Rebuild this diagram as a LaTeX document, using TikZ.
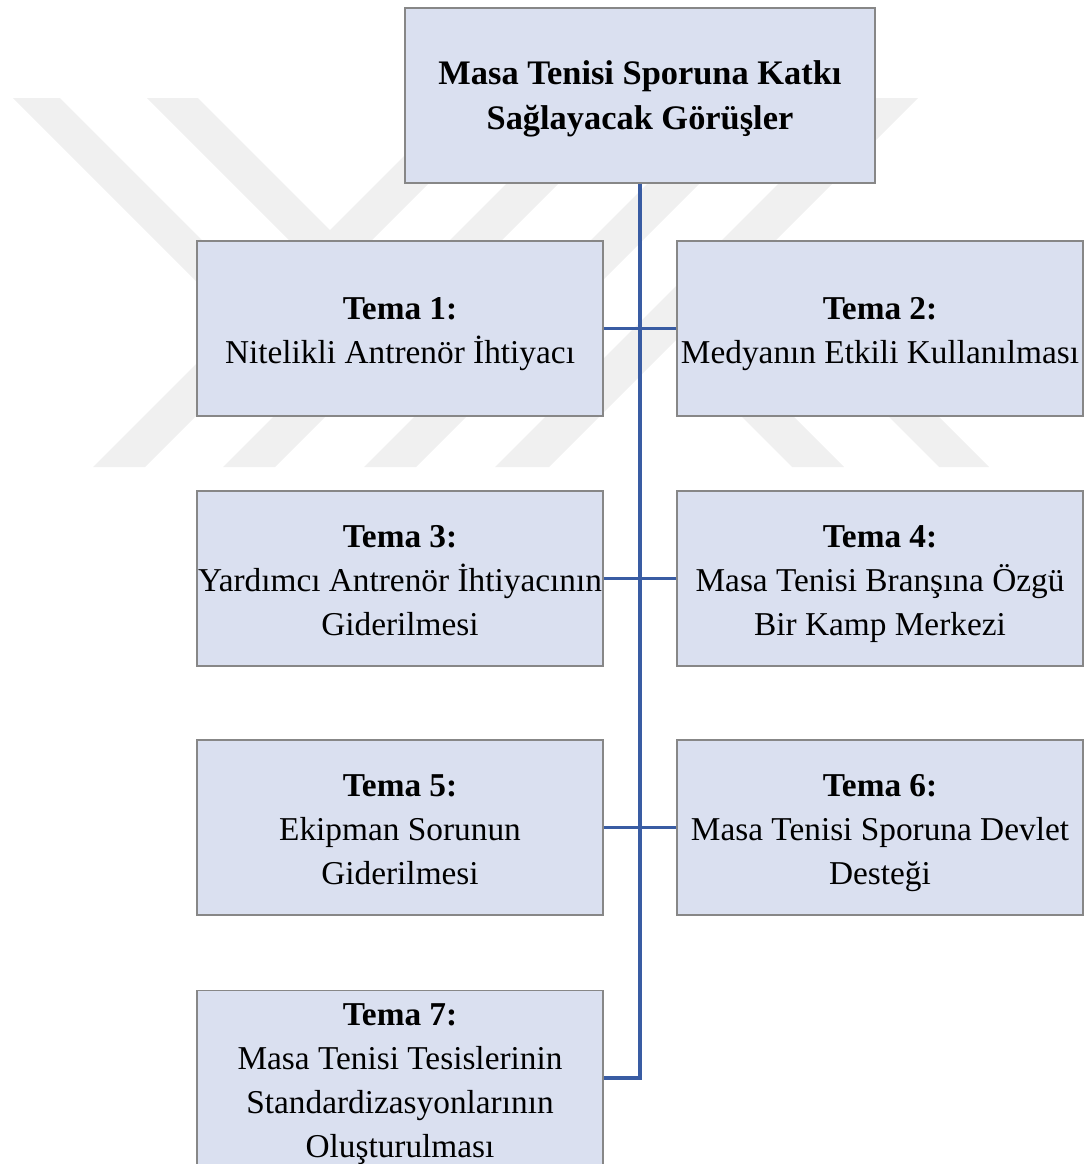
\documentclass[tikz,border=0pt]{standalone}
\usepackage{fontspec}
\setmainfont{Liberation Serif}
\definecolor{boxfill}{RGB}{218,224,240}
\definecolor{boxline}{RGB}{135,135,135}
\definecolor{connblue}{RGB}{57,92,163}
\definecolor{wmgray}{RGB}{240,240,240}
\newcommand\myTopStrut{\rule{0pt}{25.5pt}}
\newcommand\myBotStrut{\rule[-6pt]{0pt}{6pt}}
\newcommand\myTitleTop{\rule{0pt}{23pt}}
\begin{document}
\begin{tikzpicture}[x=0.75pt,y=-0.75pt,
  box/.style={draw=boxline, line width=1.1pt, fill=boxfill,
    minimum width=304.5pt, minimum height=131.25pt, inner sep=0pt,
    align=center, font=\fontsize{25}{33}\selectfont},
  connector/.style={draw=connblue, line width=2.3pt},
  wmark/.style={fill=wmgray}]
\useasboundingbox (0,0) rectangle (1088,1164);
% watermark bands
\fill[wmark] (13,98) -- (60,98) -- (262,300) -- (215,300) -- cycle;
\fill[wmark] (147,98) -- (198,98) -- (400,300) -- (349,300) -- cycle;
\fill[wmark] (462,98) -- (514,98) -- (145,467) -- (93,467) -- cycle;
\fill[wmark] (540,150) -- (592,150) -- (275,467) -- (223,467) -- cycle;
\fill[wmark] (681,150) -- (733,150) -- (416,467) -- (364,467) -- cycle;
\fill[wmark] (864,98) -- (918,98) -- (549,467) -- (495,467) -- cycle;
\fill[wmark] (705,380) -- (757,380) -- (844,467) -- (792,467) -- cycle;
\fill[wmark] (772,300) -- (822,300) -- (989,467) -- (939,467) -- cycle;
% boxes
\node[box, minimum width=352.5pt, font=\fontsize{25.8}{33.75}\selectfont\bfseries] (top) at (640,95.5)
  {\myTitleTop Masa Tenisi Sporuna Katkı\\Sağlayacak Görüşler\myBotStrut};
\node[box] (t1) at (400,328.5) {\myTopStrut\textbf{Tema 1:}\\Nitelikli Antrenör İhtiyacı\myBotStrut};
\node[box] (t2) at (880,328.5) {\myTopStrut\textbf{Tema 2:}\\Medyanın Etkili Kullanılması\myBotStrut};
\node[box] (t3) at (400,578.5) {\myTopStrut\textbf{Tema 3:}\\Yardımcı Antrenör İhtiyacının\\Giderilmesi\myBotStrut};
\node[box] (t4) at (880,578.5) {\myTopStrut\textbf{Tema 4:}\\Masa Tenisi Branşına Özgü\\Bir Kamp Merkezi\myBotStrut};
\node[box] (t5) at (400,827.5) {\myTopStrut\textbf{Tema 5:}\\Ekipman Sorunun\\Giderilmesi\myBotStrut};
\node[box] (t6) at (880,827.5) {\myTopStrut\textbf{Tema 6:}\\Masa Tenisi Sporuna Devlet\\Desteği\myBotStrut};
\node[box] (t7) at (400,1078) {\myTopStrut\textbf{Tema 7:}\\Masa Tenisi Tesislerinin\\Standardizasyonlarının\\Oluşturulması\myBotStrut};
% connectors
\draw[connector] (top.south) |- (t7.east);
\draw[connector] (t1.east) -- (t2.west);
\draw[connector] (t3.east) -- (t4.west);
\draw[connector] (t5.east) -- (t6.west);
\end{tikzpicture}
\end{document}
